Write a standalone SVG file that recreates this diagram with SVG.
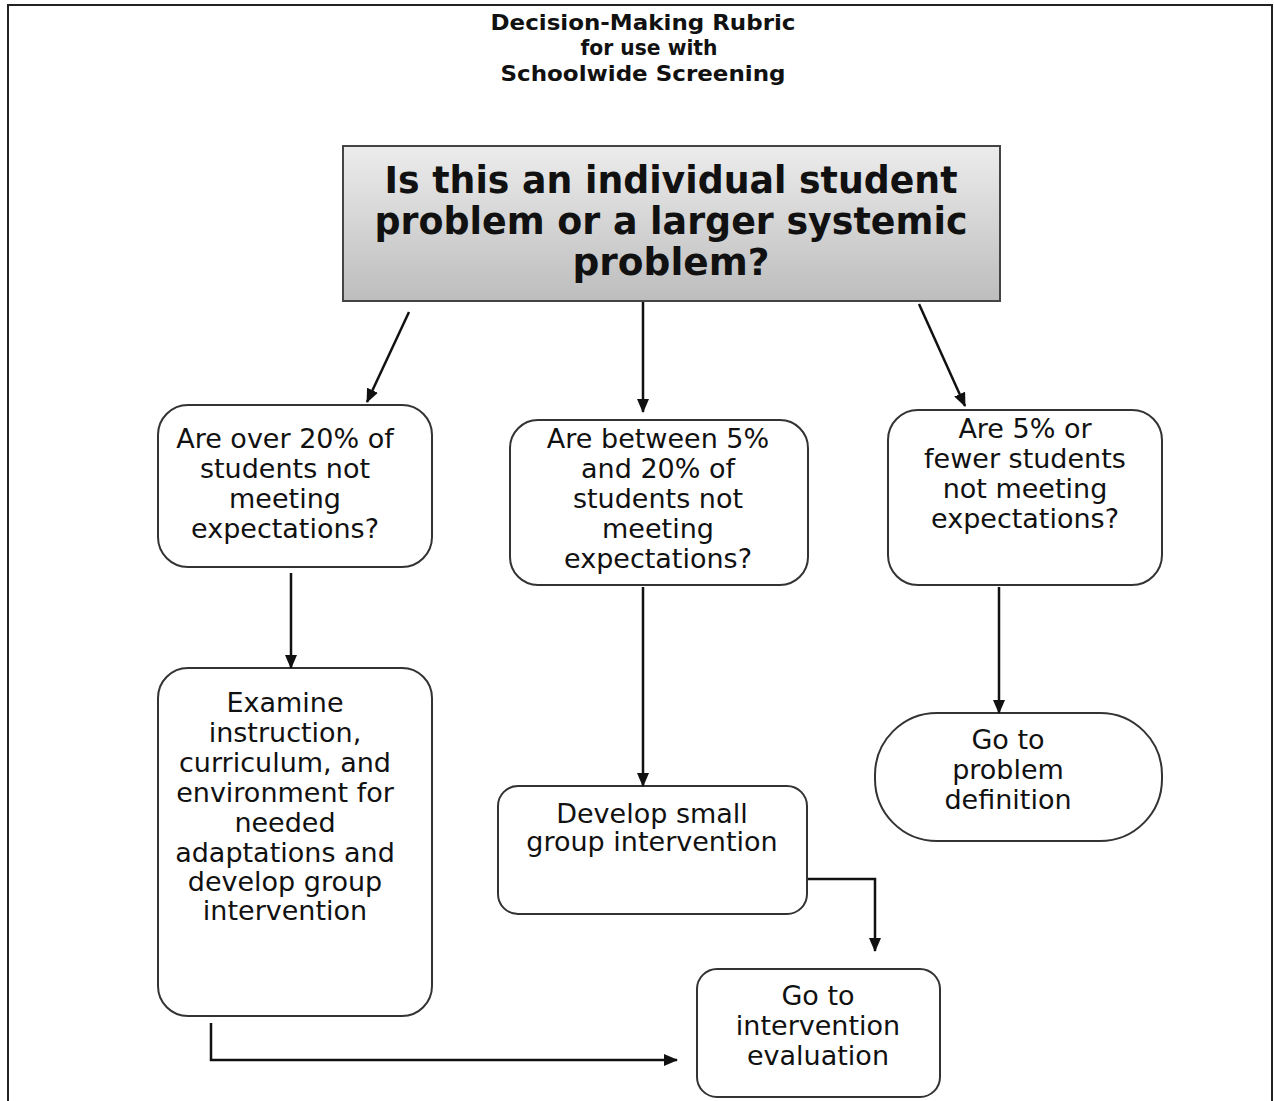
<svg xmlns="http://www.w3.org/2000/svg" width="1274" height="1101" viewBox="0 0 1274 1101">
<defs>
<linearGradient id="g" x1="0" y1="0" x2="0" y2="1"><stop offset="0" stop-color="#ececec"/><stop offset="1" stop-color="#bdbdbd"/></linearGradient>
<marker id="ah" viewBox="0 0 14 12" refX="13" refY="6" markerWidth="14" markerHeight="12" orient="auto" markerUnits="userSpaceOnUse"><path d="M0,0 L14,6 L0,12 z" fill="#111"/></marker>
<style>
.t{font-family:"DejaVu Sans","Liberation Sans",Arial,sans-serif;fill:#111;text-anchor:middle}
.title{font-size:22px;font-weight:bold}
.big{font-size:37px;font-weight:bold}
.n{font-size:27px}
.box{fill:#fff;stroke:#333;stroke-width:2}
.c{fill:none;stroke:#111;stroke-width:2.5;marker-end:url(#ah)}
</style>
</defs>
<rect width="1274" height="1101" fill="#fff"/>
<path d="M8,1101 L8,5 L1272,5 L1272,1101" fill="none" stroke="#222" stroke-width="2"/>
<g id="title" class="t title">
<text x="643" y="30" textLength="305" lengthAdjust="spacingAndGlyphs">Decision-Making Rubric</text>
<text x="649" y="55" textLength="137" lengthAdjust="spacingAndGlyphs">for use with</text>
<text x="643" y="81" textLength="285" lengthAdjust="spacingAndGlyphs">Schoolwide Screening</text>
</g>
<g id="q0">
<rect x="343" y="146" width="657" height="155" fill="url(#g)" stroke="#444" stroke-width="2"/>
<g class="t big"><text x="671" y="193" textLength="573" lengthAdjust="spacingAndGlyphs">Is this an individual student</text><text x="671" y="234" textLength="593" lengthAdjust="spacingAndGlyphs">problem or a larger systemic</text><text x="671" y="275" textLength="197" lengthAdjust="spacingAndGlyphs">problem?</text></g>
</g>
<g id="q1">
<rect class="box" x="158" y="405" width="274" height="162" rx="30"/>
<g class="t n"><text x="285" y="448">Are over 20% of</text><text x="285" y="478">students not</text><text x="285" y="508">meeting</text><text x="285" y="538">expectations?</text></g>
</g>
<g id="q2">
<rect class="box" x="510" y="420" width="298" height="165" rx="28"/>
<g class="t n"><text x="658" y="448">Are between 5%</text><text x="658" y="478">and 20% of</text><text x="658" y="508">students not</text><text x="658" y="538">meeting</text><text x="658" y="568">expectations?</text></g>
</g>
<g id="q3">
<rect class="box" x="888" y="410" width="274" height="175" rx="30"/>
<g class="t n"><text x="1025" y="438">Are 5% or</text><text x="1025" y="468">fewer students</text><text x="1025" y="498">not meeting</text><text x="1025" y="528">expectations?</text></g>
</g>
<g id="a1">
<rect class="box" x="158" y="668" width="274" height="348" rx="30"/>
<g class="t n"><text x="285" y="712">Examine</text><text x="285" y="742">instruction,</text><text x="285" y="772">curriculum, and</text><text x="285" y="802">environment for</text><text x="285" y="832">needed</text><text x="285" y="862">adaptations and</text><text x="285" y="891">develop group</text><text x="285" y="920">intervention</text></g>
</g>
<g id="a2">
<rect class="box" x="498" y="786" width="309" height="128" rx="20"/>
<g class="t n"><text x="652" y="823">Develop small</text><text x="652" y="851">group intervention</text></g>
</g>
<g id="a3">
<rect class="box" x="875" y="713" width="287" height="128" rx="62"/>
<g class="t n"><text x="1008" y="749">Go to</text><text x="1008" y="779">problem</text><text x="1008" y="809">definition</text></g>
</g>
<g id="eval">
<rect class="box" x="697" y="969" width="243" height="128" rx="20"/>
<g class="t n"><text x="818" y="1005">Go to</text><text x="818" y="1035">intervention</text><text x="818" y="1065">evaluation</text></g>
</g>
<g id="connectors">
<path class="c" d="M409,312 L367,402"/>
<path class="c" d="M643,302 L643,412"/>
<path class="c" d="M919,304 L965,406"/>
<path class="c" d="M291,573 L291,668"/>
<path class="c" d="M643,587 L643,786"/>
<path class="c" d="M999,587 L999,713"/>
<path class="c" d="M808,879 L875,879 L875,951"/>
<path class="c" d="M211,1023 L211,1060 L677,1060"/>
</g>
</svg>
